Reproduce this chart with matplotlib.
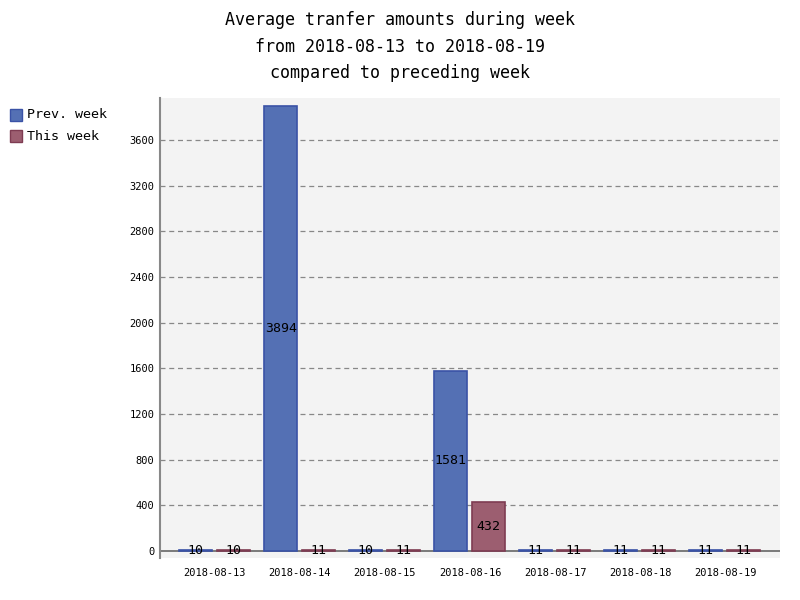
import numpy as np
import matplotlib
matplotlib.use("Agg")
import matplotlib.pyplot as plt
from matplotlib.patches import Rectangle

#data
days = ["2018-08-13", "2018-08-14", "2018-08-15", "2018-08-16",
        "2018-08-17", "2018-08-18", "2018-08-19"]
prev_week = [10, 3894, 10, 1581, 11, 11, 11]
this_week = [10, 11, 11, 432, 11, 11, 11]
series_names = ["Prev. week", "This week"]
yticks = np.arange(0, 3601, 400)

plt.rcParams['font.family'] = ['DejaVu Sans Mono']

blue_fill, blue_edge = "#5470b4", "#3a52a6"
red_fill, red_edge = "#9c5e70", "#7e3c52"

fig = plt.figure(figsize=(8, 6), dpi=100)
ax = fig.add_axes([0.2, 0.07, 0.775, 0.7667])
ax.set_facecolor("#f3f3f3")

x = np.arange(len(days))
w = 0.39
ax.bar(x - 0.225, prev_week, w, color=blue_fill, edgecolor=blue_edge, linewidth=1.2, zorder=3)
ax.bar(x + 0.215, this_week, w, color=red_fill, edgecolor=red_edge, linewidth=1.2, zorder=3)

#value labels in the middle of each bar
for xi, v in zip(x, prev_week):
    ax.text(xi - 0.225, v / 2, str(v), ha="center", va="center", fontsize=9.5, zorder=4)
for xi, v in zip(x, this_week):
    ax.text(xi + 0.215, v / 2, str(v), ha="center", va="center", fontsize=9.5, zorder=4)

ax.set_xlim(-0.647, 6.647)
ax.set_ylim(-61, 3968)

ax.set_yticks(yticks)
ax.set_yticklabels([str(t) for t in yticks], fontsize=7.5)
ax.set_xticks(x)
ax.set_xticklabels(days, fontsize=7.5)
ax.tick_params(axis="both", length=0)
ax.tick_params(axis="y", pad=4)
ax.tick_params(axis="x", pad=7)

for t in yticks[1:]:
    ax.axhline(t, color="#888888", linestyle=(0, (4, 3)), linewidth=0.9, zorder=1)
ax.axhline(0, color="#666666", linewidth=1.2, zorder=2)

for s in ["top", "right", "bottom"]:
    ax.spines[s].set_visible(False)
ax.spines["left"].set_color("#888888")
ax.spines["left"].set_linewidth(1.5)

fig.text(0.5, 1 - 20 / 600, "Average tranfer amounts during week", ha="center", va="center", fontsize=12)
fig.text(0.5, 1 - 47 / 600, "from 2018-08-13 to 2018-08-19", ha="center", va="center", fontsize=12)
fig.text(0.5, 1 - 73 / 600, "compared to preceding week", ha="center", va="center", fontsize=12)

#legend drawn by hand
for i, (name, fc, ec) in enumerate(zip(series_names, [blue_fill, red_fill], [blue_edge, red_edge])):
    yc = 115 + 21 * i
    fig.patches.append(Rectangle((10 / 800, 1 - (yc + 6) / 600), 12 / 800, 12 / 600,
                                 transform=fig.transFigure, facecolor=fc, edgecolor=ec, linewidth=1))
    fig.text(27 / 800, 1 - yc / 600, name, ha="left", va="center", fontsize=9.6)

fig.savefig("out.png", dpi=100)
